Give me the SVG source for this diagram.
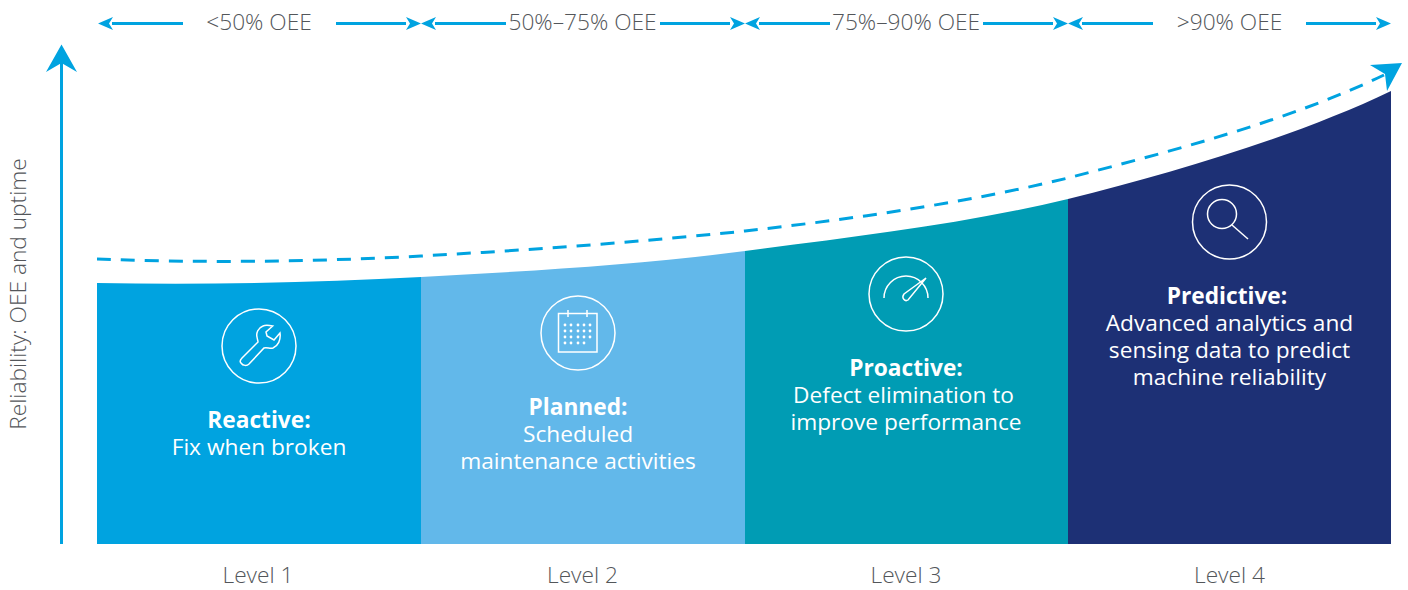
<svg xmlns="http://www.w3.org/2000/svg" width="1408" height="590" viewBox="0 0 1408 590">
<style>
text{font-family:"Open Sans","Liberation Sans",sans-serif}
.lab{font-size:22.7px;font-weight:300;fill:#53565a;text-anchor:middle}
.lvl{font-size:22.7px;font-weight:300;fill:#53565a;text-anchor:middle}
.body{font-size:22.7px;fill:#fff;text-anchor:middle}
.body .b{font-weight:700}
.ic{fill:none;stroke:#fff;stroke-width:1.5}
.ln{fill:none;stroke:#00a3e0;stroke-width:3}
.ar{fill:#00a3e0}
</style>
<defs>
<path id="r" class="ar" d="M15,0L0,-6.500L4,0L0,6.500Z"/>
<path id="l" class="ar" d="M-15,0L0,-6.500L-4,0L0,6.500Z"/>
</defs>
<g id="connectors">
<path class="ln" d="M61.500,544V60"/>
<path class="ar" d="M61.500,44.500L77,72L61.500,63L46,72Z"/>
<path class="ln" d="M112,23.500H183M336,23.500H406M435,23.500H506M660,23.500H730M759,23.500H830M983,23.500H1053M1082,23.500H1153M1306,23.500H1376"/>
<use href="#l" x="113" y="23.500"/><use href="#r" x="406" y="23.500"/>
<use href="#l" x="436" y="23.500"/><use href="#r" x="730" y="23.500"/>
<use href="#l" x="760" y="23.500"/><use href="#r" x="1053" y="23.500"/>
<use href="#l" x="1083" y="23.500"/><use href="#r" x="1376" y="23.500"/>
<path class="ln" stroke-dasharray="14 10" d="M97,259C200,263 310,262 421,256C530,250 640,242 745,231C853,219 965,203 1068,178C1176,150 1290,120 1384,75"/>
<path class="ar" d="M1402,63L1370,65L1385,74L1387,91Z"/>
</g>
<g id="level1">
<path fill="#00a3e0" d="M97,283C200,285 310,283 421,277V544H97Z"/>
<circle class="ic" cx="259" cy="346" r="37"/>
<path class="ic" d="M272.700,326C268,325 265,325 263,326C258,328 256,333 257,337C257.500,340 258,341 258,342L242,358C240,360 240,362 241,363C243,366 247,366 249,364L264,348C267,347 270,349 273,348C278,346 281,340 280,333L274,340L267,336L266,332Z"/>
<text class="body" x="259" y="427.700"><tspan class="b">Reactive:</tspan><tspan x="259" dy="27">Fix when broken</tspan></text>
<text class="lvl" x="258" y="583">Level 1</text>
</g>
<g id="level2">
<path fill="#62b8ea" d="M421,277C530,271 640,265 745,251V544H421Z"/>
<circle class="ic" cx="578" cy="333" r="37"/>
<path class="ic" d="M558.500,313.500H597V352H558.500ZM568,310V317M587,310V317"/>
<g fill="#fff"><circle cx="565" cy="325" r="1.400"/><circle cx="571" cy="325" r="1.400"/><circle cx="578" cy="325" r="1.400"/><circle cx="584" cy="325" r="1.400"/><circle cx="590" cy="325" r="1.400"/><circle cx="565" cy="331" r="1.400"/><circle cx="571" cy="331" r="1.400"/><circle cx="578" cy="331" r="1.400"/><circle cx="584" cy="331" r="1.400"/><circle cx="590" cy="331" r="1.400"/><circle cx="565" cy="337" r="1.400"/><circle cx="571" cy="337" r="1.400"/><circle cx="578" cy="337" r="1.400"/><circle cx="584" cy="337" r="1.400"/><circle cx="590" cy="337" r="1.400"/><circle cx="565" cy="343" r="1.400"/><circle cx="571" cy="343" r="1.400"/><circle cx="578" cy="343" r="1.400"/><circle cx="584" cy="343" r="1.400"/></g>
<text class="body" x="578" y="414.700"><tspan class="b">Planned:</tspan><tspan x="578" dy="27">Scheduled</tspan><tspan x="578" dy="27">maintenance activities</tspan></text>
<text class="lvl" x="582.500" y="583">Level 2</text>
</g>
<g id="level3">
<path fill="#009cb4" d="M745,251C853,237 965,224 1068,199V544H745Z"/>
<circle class="ic" cx="906" cy="294" r="37"/>
<path class="ic" d="M884,298A22,22 0 0 1 928,298M926,278L904,294C901,298 905,302 908,300Z"/>
<text class="body" x="906" y="375.700"><tspan class="b">Proactive:</tspan><tspan x="903.500" dy="27">Defect elimination to</tspan><tspan x="906" dy="27">improve performance</tspan></text>
<text class="lvl" x="906" y="583">Level 3</text>
</g>
<g id="level4">
<path fill="#1d3075" d="M1068,199C1176,172 1300,135 1391,91V544H1068Z"/>
<circle class="ic" cx="1229.500" cy="222" r="37"/>
<circle class="ic" cx="1222" cy="214" r="14.500"/>
<path class="ic" d="M1232,225L1248,239"/>
<text class="body" x="1227" y="304"><tspan class="b">Predictive:</tspan><tspan x="1229.500" dy="27">Advanced analytics and</tspan><tspan x="1229.500" dy="27">sensing data to predict</tspan><tspan x="1229.500" dy="27">machine reliability</tspan></text>
<text class="lvl" x="1229.500" y="583">Level 4</text>
</g>
<g id="labels">
<text class="lab" x="259" y="30">&lt;50% OEE</text>
<text class="lab" x="582.500" y="30">50%–75% OEE</text>
<text class="lab" x="906" y="30">75%–90% OEE</text>
<text class="lab" x="1229.500" y="30">&gt;90% OEE</text>
<text class="lab" transform="translate(26,294) rotate(-90)">Reliability: OEE and uptime</text>
</g>
</svg>
